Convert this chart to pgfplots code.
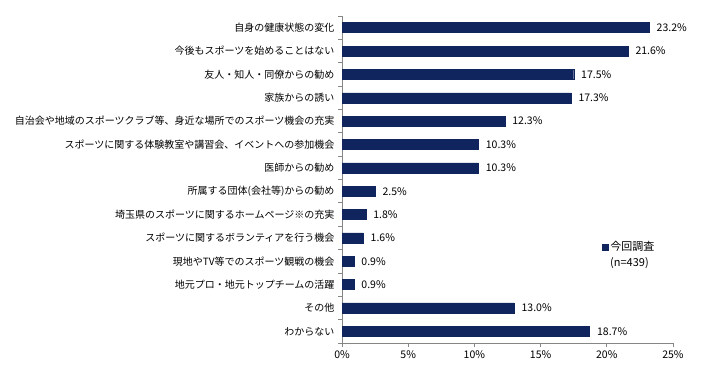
\documentclass[border=0pt]{standalone}
\usepackage{fontspec}
\setmainfont{Noto Sans CJK JP}
\usepackage{pgfplots}
\pgfplotsset{compat=1.18}
\definecolor{barblue}{RGB}{16,36,94}
\definecolor{axgray}{RGB}{134,134,134}
\begin{document}
\begin{tikzpicture}[x=1pt,y=1pt]
\path[use as bounding box] (0,0) rectangle (709,365);
\begin{axis}[
  at={(342pt,22pt)}, anchor=south west,
  scale only axis, width=331pt, height=327pt,
  xbar, bar width=10pt,
  xmin=0, xmax=25,
  ymin=-0.5, ymax=13.5, y dir=reverse,
  axis lines*=left,
  axis line style={axgray, line width=0.8pt},
  every tick/.style={axgray, line width=0.8pt},
  tick align=outside,
  ytick={0,...,13},
  yticklabels={{自身の健康状態の変化},{今後もスポーツを始めることはない},{友人・知人・同僚からの勧め},{家族からの誘い},{自治会や地域のスポーツクラブ等、身近な場所でのスポーツ機会の充実},{スポーツに関する体験教室や講習会、イベントへの参加機会},{医師からの勧め},{所属する団体(会社等)からの勧め},{埼玉県のスポーツに関するホームページ※の充実},{スポーツに関するボランティアを行う機会},{現地やTV等でのスポーツ観戦の機会},{地元プロ・地元トップチームの活躍},{その他},{わからない}},
  major tick length=4pt,
  minor tick length=4pt,
  minor ytick={-0.5,0.5,...,13.5},
  ytick style={draw=none},
  minor y tick style={draw=axgray, line width=0.8pt},
  yticklabel style={font=\fontsize{10}{12}\selectfont, xshift=0pt},
  xtick={0,5,...,25},
  xticklabels={0\%,5\%,10\%,15\%,20\%,25\%},
  xticklabel style={font=\fontsize{10.5}{12}\selectfont},
  nodes near coords={\pgfmathprintnumber[fixed,fixed zerofill,precision=1,assume math mode=true]{\pgfplotspointmeta}\%},
  nodes near coords style={anchor=west, xshift=4pt, font=\fontsize{10.5}{12}\selectfont, black},
  legend style={at={(0.785,0.294)}, anchor=west, draw=none, fill=none, font=\fontsize{11}{13}\selectfont, inner sep=0pt},
  legend image code/.code={\fill[barblue] (0pt,-3pt) rectangle (6pt,3pt);},
]
\addplot[fill=barblue, draw=barblue] coordinates {
(23.2,0) (21.6,1) (17.5,2) (17.3,3) (12.3,4) (10.3,5) (10.3,6)
(2.5,7) (1.8,8) (1.6,9) (0.9,10) (0.9,11) (13.0,12) (18.7,13)};
\addlegendentry{今回調査}
\end{axis}
\node[anchor=west, font=\fontsize{11}{13}\selectfont, inner sep=0pt] at (610,102) {(n=439)};
\end{tikzpicture}
\end{document}
